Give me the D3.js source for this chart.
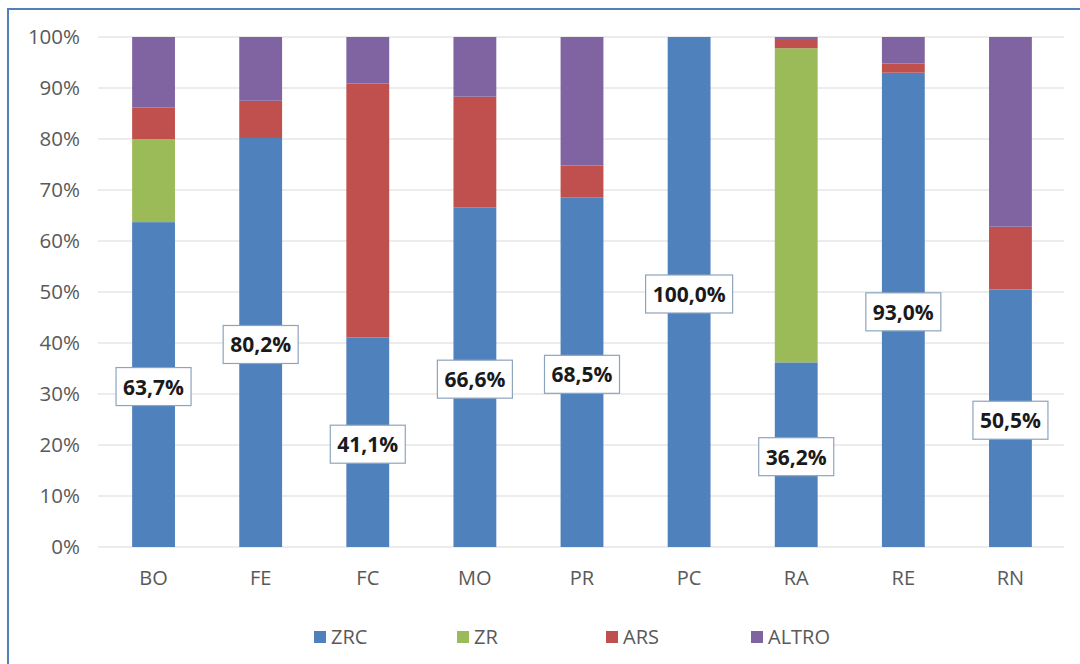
<!DOCTYPE html>
<html><head><meta charset="utf-8">
<script src="https://cdn.jsdelivr.net/npm/d3@7"></script>
<style>body{margin:0;background:#fff;} svg{display:block;}</style>
</head><body>
<svg id="c" width="1080" height="664"></svg>
<script>
const categories = ["BO","FE","FC","MO","PR","PC","RA","RE","RN"];
const seriesNames = ["ZRC","ZR","ARS","ALTRO"];
const ZRC   = [63.7, 80.2, 41.1, 66.6, 68.5, 100.0, 36.2, 93.0, 50.5];
const ZR    = [16.3,  0.0,  0.0,  0.0,  0.0,   0.0, 61.6,  0.0,  0.0];
const ARS   = [ 6.2,  7.3, 49.8, 21.7,  6.3,   0.0,  1.8,  1.8, 12.3];
const ALTRO = [13.8, 12.5,  9.1, 11.7, 25.2,   0.0,  0.4,  5.2, 37.2];
const colors = ["#4f81bd","#9bbb59","#c0504d","#8064a2"];
const yTicks = [0,10,20,30,40,50,60,70,80,90,100];

const svg = d3.select("#c");
const font = "'Open Sans', 'Liberation Sans', Arial, sans-serif";

// frame
svg.append("rect").attr("x",8).attr("y",9).attr("width",1090).attr("height",680)
  .attr("fill","#fff").attr("stroke","#4f81bd").attr("stroke-width",2);

const x = d3.scaleBand().domain(categories).range([100,1064]).paddingInner(0.6).paddingOuter(0.3);
const y = d3.scaleLinear().domain([0,100]).range([547,37]);

// gridlines
svg.append("g").selectAll("line").data(yTicks).join("line")
  .attr("x1",98).attr("x2",1064).attr("y1",d=>y(d)).attr("y2",d=>y(d))
  .attr("stroke","#d9d9d9").attr("stroke-width",1.2);

// y axis labels
const yAxis = d3.axisLeft(y).tickValues(yTicks).tickFormat(d=>d+"%").tickSize(0).tickPadding(0);
const ya = svg.append("g").attr("transform","translate(80,0)").call(yAxis);
ya.select(".domain").remove();
ya.selectAll("text").attr("font-family",font).attr("font-size",20.5).attr("fill","#595959");

// x axis labels
const xAxis = d3.axisBottom(x).tickSize(0).tickPadding(0);
const xa = svg.append("g").attr("transform","translate(0,571)").call(xAxis);
xa.select(".domain").remove();
xa.selectAll("text").attr("font-family",font).attr("font-size",20).attr("fill","#595959");

// stacked data
const table = categories.map((c,i)=>({cat:c, ZRC:ZRC[i], ZR:ZR[i], ARS:ARS[i], ALTRO:ALTRO[i]}));
const stack = d3.stack().keys(seriesNames)(table);

svg.append("g").selectAll("g").data(stack).join("g")
  .attr("fill",(d,i)=>colors[i])
  .selectAll("rect").data(d=>d).join("rect")
  .attr("x",d=>x(d.data.cat))
  .attr("width",x.bandwidth())
  .attr("y",d=>y(d[1]))
  .attr("height",d=>Math.max(0,y(d[0])-y(d[1])));

// data labels for ZRC
const lab = svg.append("g");
table.forEach((d,i)=>{
  const cx = x(d.cat)+x.bandwidth()/2;
  const cy = y(d.ZRC/2)+2;
  const t = d.ZRC.toFixed(1).replace(".",",")+"%";
  const g = lab.append("g");
  const txt = g.append("text").attr("x",cx).attr("y",cy).attr("text-anchor","middle")
    .attr("dominant-baseline","central").attr("font-family",font).attr("font-weight","bold")
    .attr("font-size",21).attr("fill","#1a1a1a").text(t);
  const bb = txt.node().getBBox();
  g.insert("rect","text").attr("x",cx-bb.width/2-7).attr("y",cy-19).attr("width",bb.width+14).attr("height",38)
    .attr("fill","#fff").attr("stroke","#8da4bf").attr("stroke-width",1.2);
});

// legend
const legX = [314,457,606,751];
const leg = svg.append("g");
seriesNames.forEach((s,i)=>{
  leg.append("rect").attr("x",legX[i]).attr("y",631).attr("width",12).attr("height",12).attr("fill",colors[i]);
  leg.append("text").attr("x",legX[i]+17).attr("y",644).attr("font-family",font).attr("font-size",20)
    .attr("fill","#595959").text(s);
});
</script>
</body></html>
